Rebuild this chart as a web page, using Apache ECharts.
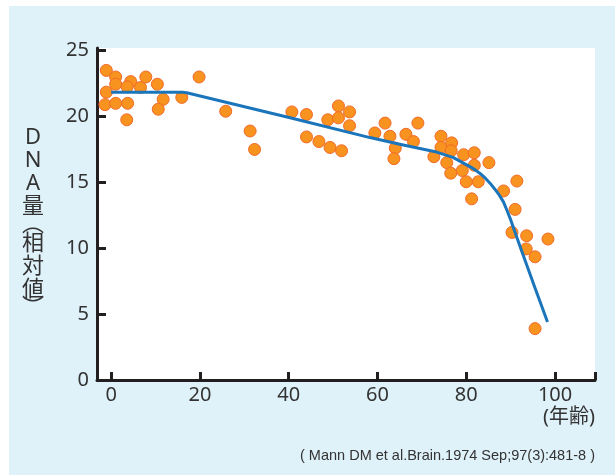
<!DOCTYPE html>
<html>
<head>
<meta charset="utf-8">
<script src="https://cdn.jsdelivr.net/npm/echarts@6/dist/echarts.min.js"></script>
<style>
  html, body { margin: 0; padding: 0; background: #ffffff; }
  #chart { width: 606px; height: 469px; margin-left: 9px; margin-top: 6px; }
</style>
</head>
<body>
<div id="chart"></div>
<script>
// 年齢と DNA 量（相対値）の散布図 + 近似曲線
const ages = [
  -1.1, 1.0, 1.0, 4.4, 3.6, 6.6, 7.8, 10.4, -1.1, -1.4, 1.0, 3.7, 11.7, 10.6, 3.5, 15.9,
  19.8, 25.8, 31.3, 32.3, 40.7, 44.0, 44.0, 46.8, 48.8, 51.2, 51.2, 53.7, 53.7, 49.3, 51.9,
  59.4, 61.7, 62.8, 64.0, 63.7, 66.4, 69.1, 68.1, 72.7, 74.3, 74.3, 76.7, 76.6, 75.6, 76.5,
  79.4, 81.8, 81.8, 79.1, 80.0, 82.7, 85.1, 81.2, 88.4, 91.4, 91.0, 90.3, 93.6, 93.5, 95.5,
  98.4, 95.5
];
const dnaValues = [
  23.5, 23.0, 22.45, 22.65, 22.25, 22.2, 23.0, 22.45, 21.85, 20.9, 21.0, 21.0, 21.3, 20.55, 19.75, 21.45,
  23.0, 20.4, 18.9, 17.5, 20.35, 20.15, 18.45, 18.1, 19.75, 20.8, 19.9, 20.35, 19.3, 17.65, 17.4,
  18.75, 19.5, 18.5, 17.6, 16.8, 18.65, 19.5, 18.1, 16.95, 18.5, 17.65, 18.0, 17.4, 16.5, 15.7,
  17.1, 17.25, 16.3, 15.9, 15.05, 15.05, 16.5, 13.75, 14.35, 15.1, 12.95, 11.2, 10.95, 9.95, 9.35,
  10.7, 3.9
];
const curveAges = [0, 16, 17, 40.3, 58.3, 65, 73.3, 77, 80.8, 82, 83.1, 84.3, 85.4, 86.4, 87.4, 88.4, 89.2, 89.9, 91, 92.1, 95.1, 98.3];
const curveValues = [21.85, 21.85, 21.8, 19.9, 18.4, 17.9, 17.3, 16.9, 16.2, 15.95, 15.68, 15.32, 14.92, 14.5, 14.05, 13.5, 12.85, 12.25, 11.2, 10.15, 7.35, 4.4];
const xLabelValues = [0, 20, 40, 60, 80, 100];
const xTickValues = [0, 20, 40, 60, 80, 100, 109];

const TEXT = '#333333';
const AXIS = '#231f20';
const FONT = "'Noto Sans', 'Noto Sans CJK JP', sans-serif";

const chart = echarts.init(document.getElementById('chart'), null, { renderer: 'canvas' });

chart.setOption({
  backgroundColor: '#dff1f9',
  animation: false,
  title: [
    {
      // 縦書きの軸名
      text: 'D\nN\nA\n量\n{b|︵}\n相\n対\n値\n{b|︶}',
      left: 24, top: 120, padding: 0, textAlign: 'center',
      textStyle: {
        color: TEXT, fontSize: 22, lineHeight: 23, fontWeight: 'normal', fontFamily: FONT,
        rich: { b: { color: TEXT, fontSize: 22, lineHeight: 14, fontFamily: FONT } }
      }
    },
    {
      text: '(年齢)',
      right: 20, top: 401, padding: 0,
      textStyle: { color: TEXT, fontSize: 20, fontWeight: 'normal', fontFamily: FONT }
    },
    {
      text: '( Mann DM et al.Brain.1974 Sep;97(3):481-8 )',
      right: 20, top: 442, padding: 0,
      textStyle: { color: TEXT, fontSize: 14.5, fontWeight: 'normal', fontFamily: "'Liberation Sans Narrow', 'Liberation Sans', sans-serif" }
    }
  ],
  grid: {
    left: 88, right: 20, top: 42, bottom: 95,
    show: true, backgroundColor: '#ffffff', borderWidth: 0
  },
  xAxis: {
    type: 'value',
    min: -3.2,
    max: 109,
    axisLine: { onZero: false, lineStyle: { color: AXIS, width: 3 } },
    axisTick: { show: true, inside: true, length: 8, customValues: xTickValues, lineStyle: { color: AXIS, width: 3 } },
    axisLabel: { customValues: xLabelValues, color: TEXT, fontSize: 20, fontFamily: FONT, margin: 5 },
    splitLine: { show: false }
  },
  yAxis: {
    type: 'value',
    min: 0,
    max: 25.2,
    interval: 5,
    axisLine: { show: true, onZero: false, lineStyle: { color: AXIS, width: 3 } },
    axisTick: { show: true, inside: true, length: 9, lineStyle: { color: AXIS, width: 3 } },
    axisLabel: { color: TEXT, fontSize: 20, fontFamily: FONT, margin: 8, showMaxLabel: false },
    splitLine: { show: false }
  },
  series: [
    {
      name: 'DNA量',
      type: 'scatter',
      data: ages.map((a, i) => [a, dnaValues[i]]),
      symbolSize: 12,
      itemStyle: { color: '#f7931e', borderColor: '#f26b2a', borderWidth: 1, opacity: 1 },
      z: 2
    },
    {
      name: '近似曲線',
      type: 'line',
      data: curveAges.map((a, i) => [a, curveValues[i]]),
      showSymbol: false,
      smooth: false,
      lineStyle: { color: '#1b75bb', width: 3, join: 'round' },
      z: 3
    }
  ]
});
</script>
</body>
</html>
